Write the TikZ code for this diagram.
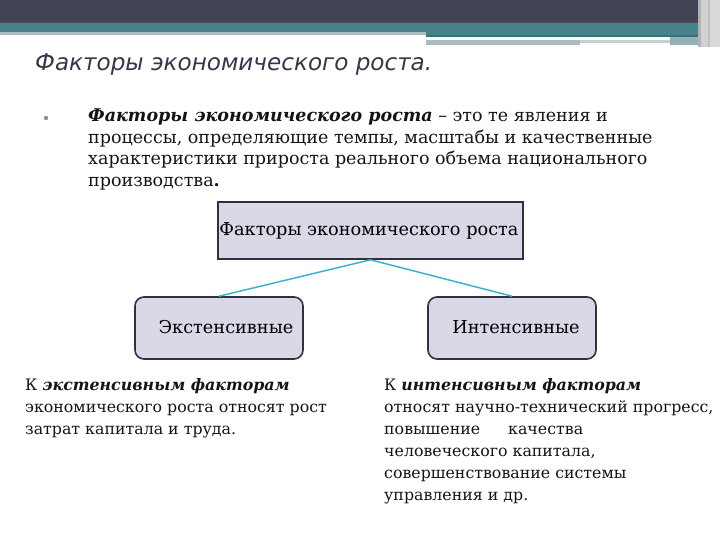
\documentclass[tikz,border=0pt]{standalone}
\usepackage{fontspec}
\setmainfont{DejaVu Serif}
\newfontfamily\titlefont{DejaVu Sans}
\definecolor{topdark}{HTML}{3F4354}
\definecolor{topline}{HTML}{4A4658}
\definecolor{teal}{HTML}{46838B}
\definecolor{tealdk}{HTML}{3D6E76}
\definecolor{graystrip}{HTML}{A9BCC2}
\definecolor{boxfill}{HTML}{D9D8E6}
\definecolor{boxline}{HTML}{30303F}
\definecolor{conn}{HTML}{3CB4CF}
\definecolor{titlecol}{HTML}{36364A}
\definecolor{bulletcol}{HTML}{9A86A8}
\tikzset{
  body/.style={anchor=base west, inner sep=0pt, text=black!92, font=\fontsize{17.5}{21}\selectfont},
  desc/.style={anchor=base west, inner sep=0pt, text=black!92, font=\fontsize{15.8}{18}\selectfont},
  sqbox/.style={draw=boxline, line width=1.6pt, fill=boxfill, minimum width=305pt, minimum height=57pt, inner sep=0pt},
  rbox/.style={draw=boxline, line width=1.6pt, fill=boxfill, rounded corners=9pt, minimum width=168pt, minimum height=62pt, inner sep=0pt},
  boxtext/.style={inner sep=0pt, text=black, font=\fontsize{17.7}{19}\selectfont},
  connector/.style={draw=conn, line width=1.5pt}
}
\begin{document}
\begin{tikzpicture}[x=1pt,y=-1pt]
\useasboundingbox (0,0) rectangle (720,540);
% header bands
\fill[topdark] (0,0) rectangle (720,23.5);
\fill[topline] (0,20.5) rectangle (720,23.5);
\fill[teal] (0,23.5) rectangle (720,32);
\fill[graystrip] (0,32) rectangle (426,35);
\fill[teal] (426,32) rectangle (698,37.5);
\fill[tealdk] (426,35.5) rectangle (698,37.5);
\fill[white] (426,37.5) rectangle (670,40);
\fill[graystrip] (426,40.5) rectangle (580,45);
\fill[graystrip!70] (580,40.5) rectangle (670,43);
\fill[graystrip!80!teal] (670,37.5) rectangle (698,45);
\fill[gray!60] (698,0) rectangle (701,47);
\fill[gray!35] (701,0) rectangle (708,47);
\fill[gray!50] (708,0) rectangle (710,47);
\fill[gray!30] (710,0) rectangle (720,47);
% title
\node[anchor=base west, inner sep=0pt, text=titlecol, font=\titlefont\itshape\fontsize{23.1}{25}\selectfont] (title) at (35,71) {Факторы экономического роста.};
% bullet paragraph
\fill[bulletcol] (46,118) circle (2.2pt);
\node[body] (p1) at (88,122) {\textbf{\textit{Факторы экономического роста}} – это те явления и};
\node[body] (p2) at (88,143.5) {процессы, определяющие темпы, масштабы и качественные};
\node[body] (p3) at (88,165) {характеристики прироста реального объема национального};
\node[body] (p4) at (88,186.5) {производства\textbf{.}};
% boxes
\node[sqbox] (main) at (370.5,230.5) {};
\node[boxtext] (maintext) at (369,231) {Факторы экономического роста};
\node[rbox] (ext) at (219,328) {};
\node[boxtext] (exttext) at (226,327) {Экстенсивные};
\node[rbox] (int) at (512,328) {};
\node[boxtext] (inttext) at (516,327) {Интенсивные};
\draw[connector] (main.south) -- (ext.north);
\draw[connector] (main.south) -- (int.north);
% descriptions
\node[desc] (l1) at (25,390) {К \textbf{\textit{экстенсивным факторам}}};
\node[desc] (l2) at (25,412) {экономического роста относят рост};
\node[desc] (l3) at (25,434) {затрат капитала и труда.};
\node[desc] (r1) at (384,390) {К \textbf{\textit{интенсивным факторам}}};
\node[desc] (r2) at (384,412) {относят научно-технический прогресс,};
\node[desc] (r3) at (384,434) {повышение\hspace{28pt}качества};
\node[desc] (r4) at (384,456) {человеческого капитала,};
\node[desc] (r5) at (384,478) {совершенствование системы};
\node[desc] (r6) at (384,500) {управления и др.};
\end{tikzpicture}
\end{document}
